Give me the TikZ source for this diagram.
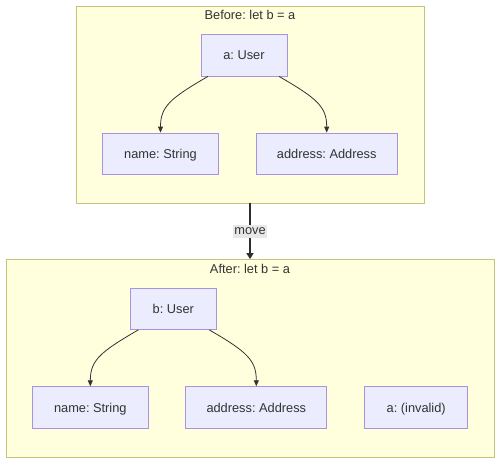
\documentclass[tikz,border=0pt]{standalone}
\usepackage{fontspec}
\setmainfont{Liberation Sans}
\usetikzlibrary{calc,arrows.meta}
\definecolor{clfill}{HTML}{FFFFDE}
\definecolor{cldraw}{HTML}{C4C47A}
\definecolor{ndfill}{HTML}{ECECFF}
\definecolor{nddraw}{HTML}{A992E0}
\definecolor{txt}{HTML}{333333}
\definecolor{lblbg}{HTML}{E8E8E8}
\tikzset{
  cluster/.style={draw=cldraw, fill=clfill, line width=0.9pt, inner sep=0pt},
  box/.style={draw=nddraw, fill=ndfill, line width=0.8pt, inner sep=0pt, text=txt, font=\fontsize{12.8}{14}\selectfont\frenchspacing, text height=9.4pt, text depth=0pt},
  ttl/.style={text=txt, font=\fontsize{12.8}{14}\selectfont\frenchspacing, inner sep=0pt},
  edge/.style={draw=txt, line width=0.8pt, -{Triangle[length=6pt,width=5pt]}},
  moveedge/.style={draw=txt!90!black, line width=2.6pt, -{Triangle[length=6pt,width=7pt]}},
  lbl/.style={fill=lblbg, text=txt, font=\fontsize{12.8}{14}\selectfont, inner xsep=1.5pt, inner ysep=3pt}
}
\begin{document}
\begin{tikzpicture}[x=1pt,y=-1pt]
\useasboundingbox (0,0) rectangle (500,463);
% clusters
\node[cluster, minimum width=348pt, minimum height=197pt] (before) at (250,104.5) {};
\node[ttl] (beforet) at (250,15) {Before: let b = a};
\node[cluster, minimum width=488pt, minimum height=197.5pt] (after) at (250,358.3) {};
\node[ttl] (aftert) at (250,269) {After: let b = a};
% before nodes
\node[box, minimum width=86pt, minimum height=42pt] (a) at (244,55) {a: User};
\node[box, minimum width=116pt, minimum height=41pt] (n1) at (160.5,153.5) {name: String};
\node[box, minimum width=141pt, minimum height=41pt] (ad1) at (326.7,153.5) {address: Address};
% after nodes
\node[box, minimum width=86pt, minimum height=41pt] (b) at (173.3,309) {b: User};
\node[box, minimum width=116pt, minimum height=42pt] (n2) at (90.3,407.7) {name: String};
\node[box, minimum width=141pt, minimum height=42pt] (ad2) at (256.3,407.7) {address: Address};
\node[box, minimum width=103pt, minimum height=42pt] (inv) at (416.2,407.7) {a: (invalid)};
% edges before
\draw[edge] ($(a.south)+(-36,0)$) .. controls +(-38,22) and +(0,-26) .. (n1.north);
\draw[edge] ($(a.south)+(35,0)$) .. controls +(38,22) and +(0,-26) .. (ad1.north);
% edges after
\draw[edge] ($(b.south)+(-35,0)$) .. controls +(-38,22) and +(0,-26) .. (n2.north);
\draw[edge] ($(b.south)+(36,0)$) .. controls +(38,22) and +(0,-26) .. (ad2.north);
% move
\draw[moveedge] (before.south) -- node[lbl] (mv) {move} (after.north);
\end{tikzpicture}
\end{document}
